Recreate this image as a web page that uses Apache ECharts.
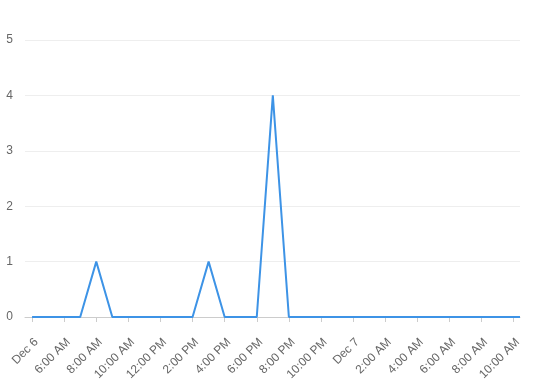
<!DOCTYPE html>
<html>
<head>
<meta charset="utf-8">
<script src="https://cdn.jsdelivr.net/npm/echarts@6/dist/echarts.min.js"></script>
<style>html,body{margin:0;padding:0;background:#fff}#c{width:537px;height:391px}</style>
</head>
<body>
<div id="c"></div>
<script>
// hours since the first point (Dec 6, first label)
var hours = [0,1,2,3,4,5,6,7,8,9,10,11,12,13,14,15,16,17,18,19,20,21,22,23,24,25,26,27,28,29,30,30.4];
var counts = [0,0,0,0,1,0,0,0,0,0,0,1,0,0,0,4,0,0,0,0,0,0,0,0,0,0,0,0,0,0,0,0];
var tickHours = [0,2,4,6,8,10,12,14,16,18,20,22,24,26,28,30];
var tickLabels = ['Dec 6','6:00 AM','8:00 AM','10:00 AM','12:00 PM','2:00 PM','4:00 PM','6:00 PM','8:00 PM','10:00 PM','Dec 7','2:00 AM','4:00 AM','6:00 AM','8:00 AM','10:00 AM'];
var yTicks = [0,1,2,3,4,5];

var chart = echarts.init(document.getElementById('c'), null, {renderer:'canvas'});
var data = hours.map(function(h,i){ return [h, counts[i]]; });
chart.setOption({
  animation: false,
  grid: {left: 25, right: 17, top: 40, bottom: 74, containLabel: false},
  xAxis: {
    type: 'value',
    min: -0.44, max: 30.4,
    axisLine: {show: true, lineStyle: {color: '#cccccc', width: 1}},
    axisTick: {show: true, customValues: tickHours, length: 5, lineStyle: {color: '#cccccc'}},
    axisLabel: {
      customValues: tickHours,
      rotate: 45,
      margin: 19,
      verticalAlign: 'top',
      color: '#666666',
      fontSize: 12,
      fontFamily: 'Arial, "Liberation Sans", sans-serif',
      formatter: function(v){ var i = tickHours.indexOf(Math.round(v)); return i >= 0 ? tickLabels[i] : ''; }
    },
    splitLine: {show: false}
  },
  yAxis: {
    type: 'value',
    min: yTicks[0], max: yTicks[yTicks.length-1], interval: 1,
    axisLine: {show: false},
    axisTick: {show: false},
    axisLabel: {color: '#666666', fontSize: 12, margin: 12, fontFamily: 'Arial, "Liberation Sans", sans-serif'},
    splitLine: {lineStyle: {color: '#eeeeee', width: 1}}
  },
  series: [{
    type: 'line',
    data: data,
    showSymbol: false,
    symbol: 'none',
    lineStyle: {color: '#3d93e6', width: 2},
    z: 3
  }]
});
</script>
</body>
</html>
